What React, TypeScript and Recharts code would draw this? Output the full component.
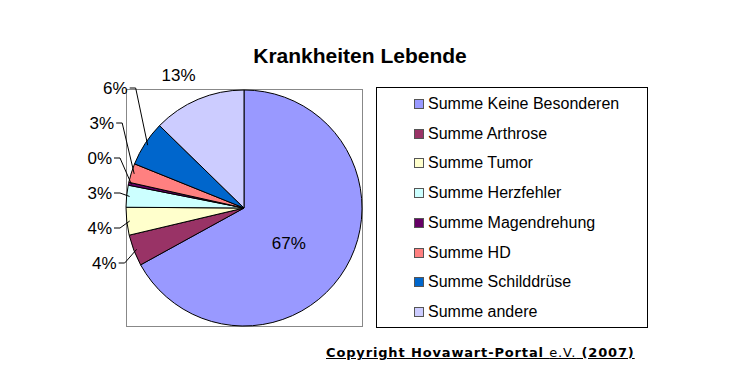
import React from 'react';
import { PieChart, Pie, Cell } from 'recharts';

const categories = [
  'Summe Keine Besonderen',
  'Summe Arthrose',
  'Summe Tumor',
  'Summe Herzfehler',
  'Summe Magendrehung',
  'Summe HD',
  'Summe Schilddrüse',
  'Summe andere',
];
const values = [67.0, 4.3, 3.8, 3.0, 0.4, 2.6, 6.2, 12.7];
const colors = ['#9999FF', '#993366', '#FFFFCC', '#CCFFFF', '#660066', '#FF8080', '#0066CC', '#CCCCFF'];
const title = 'Krankheiten Lebende';

const data = categories.map((name, i) => ({ name, value: values[i] }));

const FONT = 'Arial, "Liberation Sans", sans-serif';
const RAD = Math.PI / 180;

const renderLabel = (props: any) => {
  const { cx, cy, midAngle, outerRadius, percent, index } = props;
  const txt = `${Math.round(percent * 100)}%`;
  const cos = Math.cos(-midAngle * RAD);
  const sin = Math.sin(-midAngle * RAD);
  if (index === 0) {
    const r = outerRadius * 0.5;
    return (
      <text x={cx + r * cos - 6} y={cy + r * sin + 5} textAnchor="middle" dominantBaseline="central"
        fontFamily={FONT} fontSize={17} fill="#000">{txt}</text>
    );
  }
  if (index === categories.length - 1) {
    const r = outerRadius + 30;
    return (
      <text x={cx + r * cos - 8} y={cy + r * sin + 4} textAnchor="middle" dominantBaseline="central"
        fontFamily={FONT} fontSize={17} fill="#000">{txt}</text>
    );
  }
  const ex = cx + (outerRadius - 3) * cos;
  const ey = cy + (outerRadius - 3) * sin;
  const ly = cy + 55 - (index - 1) * 35;
  const lx = Math.max(cx - outerRadius - 14, ex - 20);
  return (
    <g>
      <polyline points={`${lx + 2},${ly} ${lx + 8},${ly} ${ex},${ey}`} fill="none" stroke="#000" strokeWidth={1} />
      <text x={lx} y={ly} textAnchor="end" dominantBaseline="central"
        fontFamily={FONT} fontSize={17} fill="#000">{txt}</text>
    </g>
  );
};

export default function App() {
  return (
    <div style={{ position: 'absolute', left: 0, top: 0, width: 749, height: 373, background: '#fff', overflow: 'hidden' }}>
      <div style={{ position: 'absolute', left: 0, top: 44, width: 720, textAlign: 'center', fontFamily: FONT, fontWeight: 'bold', fontSize: 21, color: '#000' }}>
        {title}
      </div>
      <div style={{ position: 'absolute', left: 126, top: 89, width: 235, height: 236, border: '1px solid #888' }} />
      <div style={{ position: 'absolute', left: 0, top: 0 }}>
        <PieChart width={749} height={373} margin={{ top: 0, right: 0, bottom: 0, left: 0 }}>
          <Pie
            data={data}
            dataKey="value"
            nameKey="name"
            cx={244}
            cy={208}
            outerRadius={118}
            startAngle={90}
            endAngle={-270}
            stroke="#000"
            strokeWidth={1}
            label={renderLabel}
            labelLine={false}
            isAnimationActive={false}
          >
            {data.map((d, i) => (
              <Cell key={d.name} fill={colors[i]} />
            ))}
          </Pie>
        </PieChart>
      </div>
      <div style={{ position: 'absolute', left: 376, top: 87, width: 270, height: 239, border: '1px solid #000' }}>
        {categories.map((c, i) => (
          <div key={c} style={{ position: 'absolute', left: 37, top: 16 + i * 29.7 - 10, height: 20, display: 'flex', alignItems: 'center', fontFamily: FONT, fontSize: 16, color: '#000', whiteSpace: 'nowrap' }}>
            <span style={{ display: 'inline-block', width: 8, height: 8, background: colors[i], border: '1px solid #555', marginRight: 4 }} />
            {c}
          </div>
        ))}
      </div>
      <div style={{ position: 'absolute', left: 326, top: 345, fontFamily: '"DejaVu Sans", sans-serif', fontWeight: 'bold', fontSize: 13, letterSpacing: 0.85, textDecoration: 'underline', color: '#000', whiteSpace: 'nowrap' }}>
        Copyright Hovawart-Portal <span style={{ fontWeight: 'normal' }}>e.V.</span> (2007)
      </div>
    </div>
  );
}
